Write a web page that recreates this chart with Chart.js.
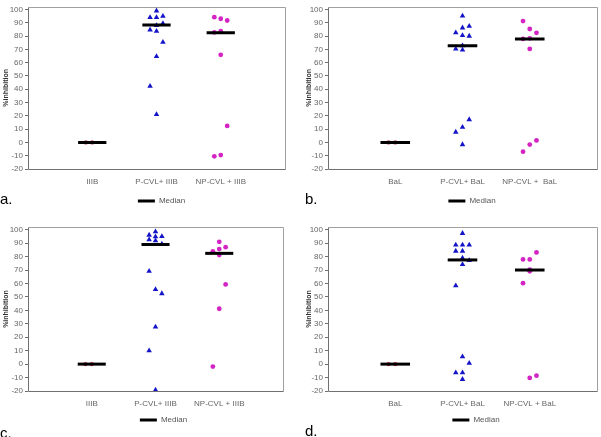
<!DOCTYPE html>
<html>
<head>
<meta charset="utf-8">
<script src="https://cdn.jsdelivr.net/npm/chart.js@4.4.1/dist/chart.umd.min.js"></script>
<style>
  html, body { margin: 0; padding: 0; background: #fff; }
  body { width: 601px; height: 437px; position: relative; overflow: hidden; font-family: "Liberation Sans", Arial, sans-serif; }
  .panel { position: absolute; }
  .tag { position: absolute; font-size: 15px; color: #000; line-height: 1; }
</style>
</head>
<body>
<div class="panel" style="left:0;top:0;width:300px;height:215px"><canvas id="chartA"></canvas></div>
<div class="panel" style="left:300px;top:0;width:301px;height:215px"><canvas id="chartB"></canvas></div>
<div class="panel" style="left:0;top:215px;width:300px;height:222px"><canvas id="chartC"></canvas></div>
<div class="panel" style="left:300px;top:215px;width:301px;height:222px"><canvas id="chartD"></canvas></div>
<div class="tag" style="left:0;top:191px">a.</div>
<div class="tag" style="left:305px;top:191px">b.</div>
<div class="tag" style="left:0;top:425px">c.</div>
<div class="tag" style="left:305px;top:423px">d.</div>
<script>
// Tick labels
const yTicks = [-20, -10, 0, 10, 20, 30, 40, 50, 60, 70, 80, 90, 100];
const groupsIIIB = ['IIIB', 'P-CVL+ IIIB', 'NP-CVL + IIIB'];
const groupsBaLb = ['BaL', 'P-CVL+ BaL', 'NP-CVL +  BaL'];
const groupsBaLd = ['BaL', 'P-CVL+ BaL', 'NP-CVL + BaL'];

// Panel a (IIIB)
const aCtl = [0, 0];
const aCtlLane = [-1, 0];
const aP = [99, 94, 94, 95, 89.5, 88, 84.7, 83.7, 75.4, 64.7, 42.3, 21.1];
const aPLane = [0, -1, 0, 1, 1, 0, -1, 0, 1, 0, -1, 0];
const aNP = [94.2, 93, 91.7, 83.7, 82.7, 65.9, 12.4, -10.5, -9.5];
const aNPLane = [-1, 0, 1, 0, -1, 0, 1, -1, 0];
const aMedian = [0, 88.3, 82.5];

// Panel b (BaL)
const bCtl = [0, 0];
const bCtlLane = [-1, 0];
const bP = [95.2, 87.4, 86.2, 82.6, 80.4, 80, 72.7, 70.3, 69.6, 17.2, 11.4, 7.8, -1.6];
const bPLane = [0, 1, 0, -1, 0, 1, 0, -1, 0, 1, 0, -1, 0];
const bNP = [91.3, 85.3, 82.4, 78.3, 77.8, 70.3, 1.5, -1.6, -7];
const bNPLane = [-1, 0, 1, 0, -1, 0, 1, 0, -1];
const bMedian = [0, 72.7, 77.8];

// Panel c (IIIB)
const cCtl = [0, 0];
const cCtlLane = [-1, 0];
const cP = [98.5, 96, 94.8, 95, 92.5, 91.8, 89.3, 69.2, 55.5, 52.5, 27.7, 10, -19.3];
const cPLane = [0, -1, 0, 1, -1, 0, 1, -1, 0, 1, 0, -1, 0];
const cNP = [91, 87, 85.6, 83.9, 81.1, 59.3, 41.2, -1.8];
const cNPLane = [0, 1, 0, -1, 0, 1, 0, -1];
const cMedian = [0, 89, 82.4];

// Panel d (BaL)
const dCtl = [0, 0];
const dCtlLane = [-1, 0];
const dP = [97.3, 88.6, 88.6, 88.6, 84.1, 84.1, 78.9, 77.2, 74.2, 58.3, 5.5, 0.7, -6.3, -6.3, -11.3];
const dPLane = [0, -1, 0, 1, -1, 0, 0, 1, 0, -1, 0, 1, -1, 0, 0];
const dNP = [77.9, 77.9, 83.1, 70.2, 69, 60.2, -8.6, -10.3];
const dNPLane = [-1, 0, 1, 0, 0, -1, 1, 0];
const dMedian = [0, 77.5, 70];

const LANE = 0.1;      // jitter step, x units
const HALF_BAR = 0.22; // half width of median bar

function toPoints(values, lanes, group) {
    return values.map((v, i) => ({ x: group + lanes[i] * LANE, y: v }));
}

// frame round the plot area, darker on the axis sides
const framePlugin = {
    id: 'frame',
    beforeDatasetsDraw(chart) {
        const a = chart.chartArea;
        const ctx = chart.ctx;
        const l = Math.round(a.left) + 0.5, r = Math.round(a.right) + 0.5;
        const t = Math.round(a.top) + 0.5, b = Math.round(a.bottom) + 0.5;
        ctx.save();
        ctx.lineWidth = 1;
        ctx.strokeStyle = '#a0a0a0';
        ctx.beginPath();
        ctx.moveTo(l, t); ctx.lineTo(r, t); ctx.lineTo(r, b);
        ctx.stroke();
        ctx.strokeStyle = '#707070';
        ctx.beginPath();
        ctx.moveTo(l, t); ctx.lineTo(l, b); ctx.lineTo(r, b);
        ctx.stroke();
        ctx.restore();
    }
};

// nudge the legend sideways, it sits right of centre in the original
const legendShift = {
    id: 'legendShift',
    afterLayout(chart, args, opts) {
        const lg = chart.legend;
        if (lg) { lg.left += opts.dx; lg.right += opts.dx; }
    }
};

function makePanel(id, labels, ctl, ctlLane, p, pLane, np, npLane, median, pad, xH, dx) {
    const medianSets = median.map((m, i) => ({
        type: 'line',
        label: 'Median',
        data: [{ x: i + 1 - HALF_BAR, y: m }, { x: i + 1 + HALF_BAR, y: m }],
        borderColor: '#000',
        borderWidth: 3,
        pointRadius: 0,
        order: 0
    }));
    return new Chart(document.getElementById(id), {
        type: 'scatter',
        data: {
            datasets: [
                ...medianSets,
                {
                    label: 'control',
                    data: toPoints(ctl, ctlLane, 1),
                    pointStyle: 'circle', pointRadius: 2.2,
                    backgroundColor: '#c04050', borderColor: '#c04050', borderWidth: 0,
                    order: 1
                },
                {
                    label: 'P-CVL',
                    data: toPoints(p, pLane, 2),
                    pointStyle: 'triangle', pointRadius: 3.2,
                    backgroundColor: '#1414c8', borderColor: '#1414c8', borderWidth: 0,
                    order: 1
                },
                {
                    label: 'NP-CVL',
                    data: toPoints(np, npLane, 3),
                    pointStyle: 'circle', pointRadius: 2.4,
                    backgroundColor: '#d424c4', borderColor: '#d424c4', borderWidth: 0,
                    order: 1
                }
            ]
        },
        options: {
            responsive: true,
            maintainAspectRatio: false,
            animation: false,
            events: [],
            layout: { padding: pad },
            plugins: {
                tooltip: { enabled: false },
                legendShift: { dx: dx },
                legend: {
                    position: 'bottom',
                    labels: {
                        color: '#555',
                        font: { family: 'Liberation Sans', size: 8 },
                        boxWidth: 17,
                        boxHeight: 3,
                        padding: 6,
                        generateLabels: () => [{
                            text: 'Median', fillStyle: '#000', strokeStyle: '#000',
                            lineWidth: 0, hidden: false, datasetIndex: 0, fontColor: '#555'
                        }]
                    }
                }
            },
            scales: {
                x: {
                    type: 'linear',
                    min: 0, max: 4,
                    afterBuildTicks: s => { s.ticks = [1, 2, 3].map(v => ({ value: v })); },
                    afterFit: s => { s.height = xH; },
                    grid: { display: false, drawTicks: false },
                    border: { display: false },
                    ticks: {
                        color: '#666',
                        padding: 8,
                        maxRotation: 0,
                        font: { family: 'Liberation Sans', size: 8 },
                        callback: v => labels[v - 1]
                    }
                },
                y: {
                    min: -20, max: 102,
                    afterBuildTicks: s => { s.ticks = yTicks.map(v => ({ value: v })); },
                    afterFit: s => { s.width = 28 - pad.left; },
                    grid: { display: true, drawOnChartArea: false, tickLength: 3, color: '#707070' },
                    border: { display: false },
                    title: {
                        display: true,
                        text: '%inhibition',
                        color: '#333',
                        padding: 0,
                        font: { family: 'Liberation Sans', size: 7, weight: 'bold' }
                    },
                    ticks: {
                        color: '#666',
                        padding: 2,
                        font: { family: 'Liberation Sans', size: 8 }
                    }
                }
            }
        },
        plugins: [framePlugin, legendShift]
    });
}

makePanel('chartA', groupsIIIB, aCtl, aCtlLane, aP, aPLane, aNP, aNPLane, aMedian,
    { left: 2, top: 1, right: 15, bottom: 0 }, 22, 18);
makePanel('chartB', groupsBaLb, bCtl, bCtlLane, bP, bPLane, bNP, bNPLane, bMedian,
    { left: 5, top: 2, right: 4, bottom: 0 }, 22, 21);
makePanel('chartC', groupsIIIB, cCtl, cCtlLane, cP, cPLane, cNP, cNPLane, cMedian,
    { left: 2, top: 12, right: 17, bottom: 3 }, 19, 21);
makePanel('chartD', groupsBaLd, dCtl, dCtlLane, dP, dPLane, dNP, dNPLane, dMedian,
    { left: 5, top: 12, right: 4, bottom: 3 }, 19, 25);
</script>
</body>
</html>
